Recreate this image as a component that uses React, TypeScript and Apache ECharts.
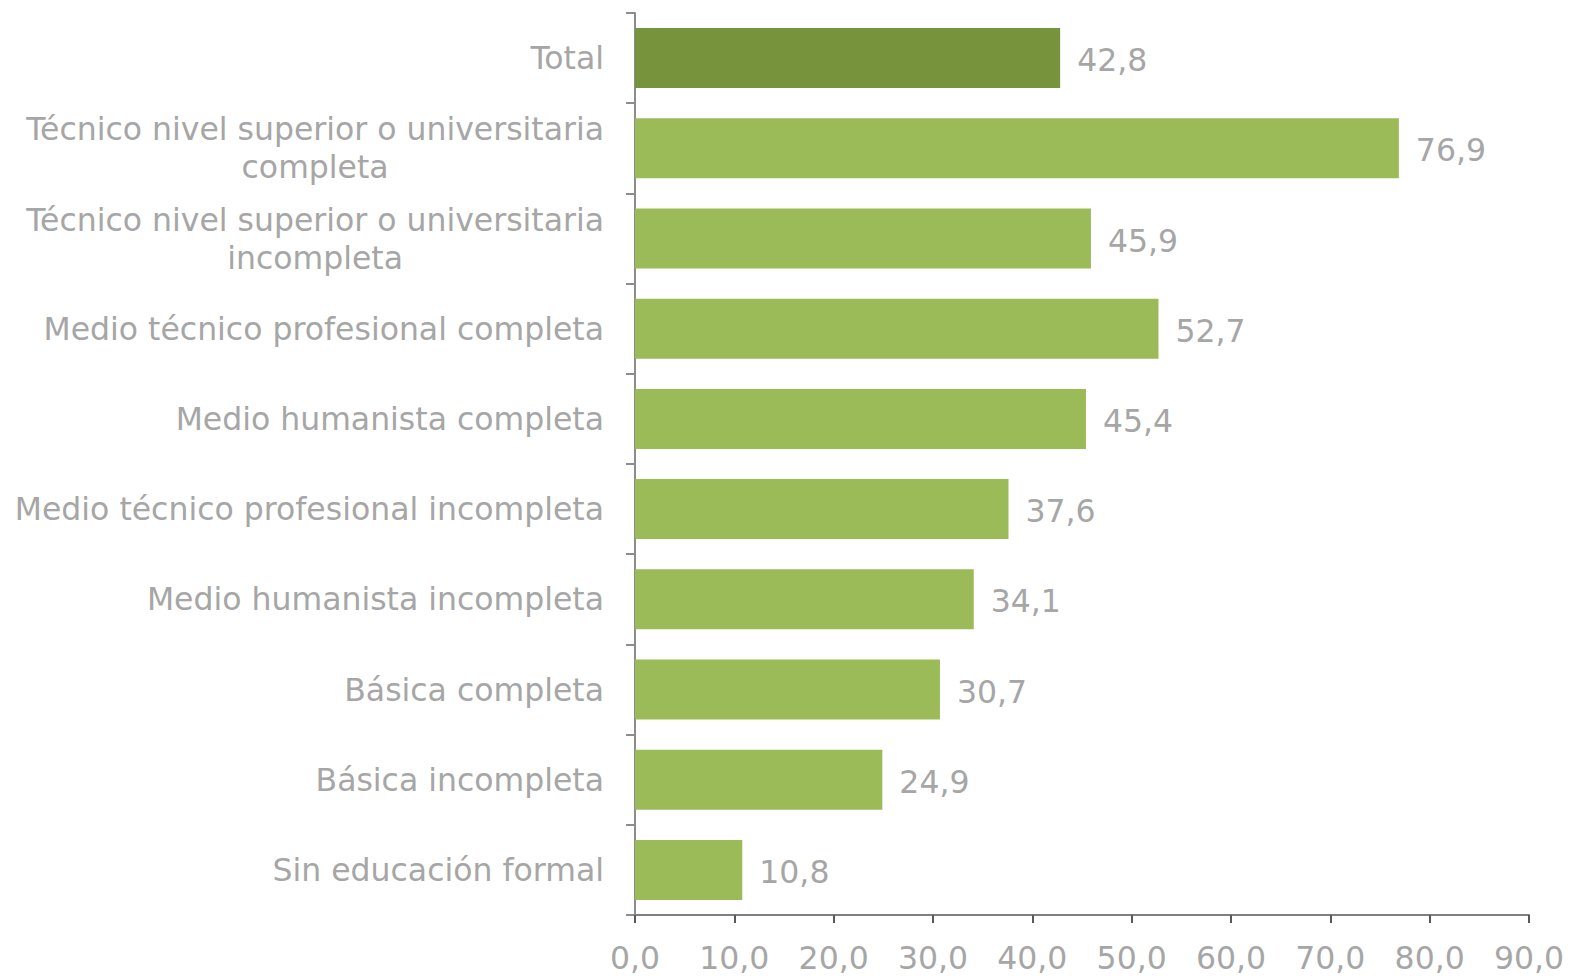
import React, { useEffect, useRef } from "react";
import * as echarts from "echarts";

const categories: string[] = [
  "Total",
  "Técnico nivel superior o universitaria\ncompleta",
  "Técnico nivel superior o universitaria\nincompleta",
  "Medio técnico profesional completa",
  "Medio humanista completa",
  "Medio técnico profesional incompleta",
  "Medio humanista incompleta",
  "Básica completa",
  "Básica incompleta",
  "Sin educación formal",
];

const values: number[] = [42.8, 76.9, 45.9, 52.7, 45.4, 37.6, 34.1, 30.7, 24.9, 10.8];

const xMin = 0;
const xMax = 90;
const xInterval = 10;

const FONT = "DejaVu Sans, Verdana, sans-serif";
const FS = 31.5;
const TEXT_COLOR = "#a6a6a6";
const fmt = (v: number) => v.toFixed(1).replace(".", ",");

export default function App() {
  const ref = useRef<HTMLDivElement>(null);
  useEffect(() => {
    document.body.style.margin = "0";
    const chart = echarts.init(ref.current!, undefined, { renderer: "svg" });
    chart.setOption({
      animation: false,
      backgroundColor: "#ffffff",
      grid: { left: 635, right: 41, top: 13, bottom: 61, containLabel: false },
      xAxis: {
        type: "value",
        min: xMin,
        max: xMax,
        interval: xInterval,
        splitLine: { show: false },
        axisLine: { show: true, lineStyle: { color: "#808080", width: 2 } },
        axisTick: { show: true, length: 8, lineStyle: { color: "#595959", width: 2 } },
        axisLabel: {
          margin: 27,
          fontSize: FS,
          fontFamily: FONT,
          color: TEXT_COLOR,
          formatter: (v: number) => fmt(v),
        },
      },
      yAxis: {
        type: "category",
        inverse: true,
        data: categories,
        axisLine: { show: true, lineStyle: { color: "#8c8c8c", width: 2 } },
        axisTick: { show: true, length: 9, lineStyle: { color: "#8c8c8c", width: 2 } },
        axisLabel: {
          margin: 31,
          fontSize: FS,
          fontFamily: FONT,
          color: TEXT_COLOR,
          lineHeight: 38,
          align: "right",
          formatter: (v: string) =>
            v.includes("\n")
              ? v
                  .split("\n")
                  .map((l) => `{c|${l}}`)
                  .join("\n")
              : v,
          rich: {
            c: {
              align: "center",
              fontSize: FS,
              fontFamily: FONT,
              color: TEXT_COLOR,
              lineHeight: 38,
            },
          },
        },
      },
      series: [
        {
          type: "bar",
          data: values,
          barWidth: 60,
          itemStyle: {
            color: (p: any) => (p.dataIndex === 0 ? "#77933c" : "#9bbb59"),
          },
          label: {
            show: true,
            position: "right",
            distance: 17,
            offset: [0, 2],
            fontSize: FS,
            fontFamily: FONT,
            color: TEXT_COLOR,
            formatter: (p: any) => fmt(p.value),
          },
        },
      ],
    });
    return () => chart.dispose();
  }, []);
  return <div ref={ref} style={{ width: 1570, height: 976 }} />;
}
